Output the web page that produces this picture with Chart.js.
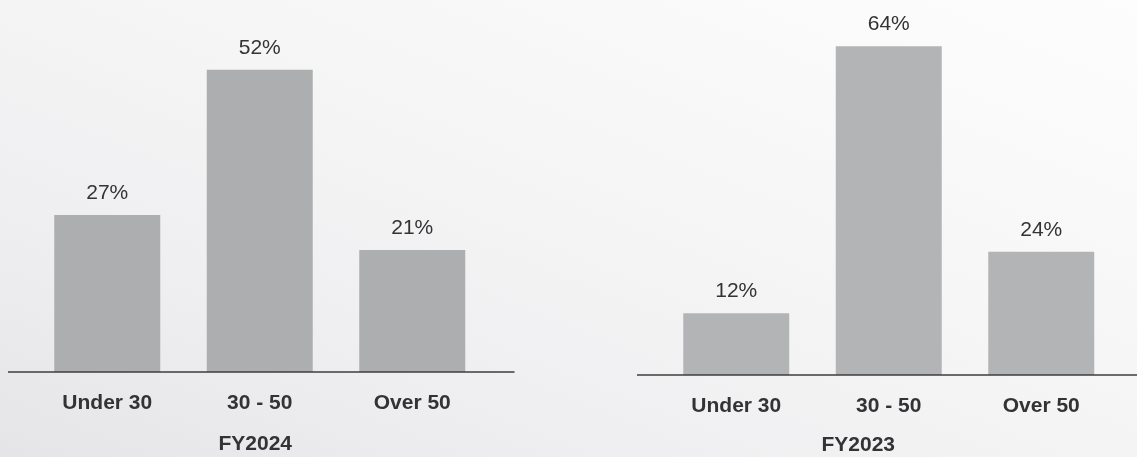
<!DOCTYPE html>
<html>
<head>
<meta charset="utf-8">
<title>Workforce by age group</title>
<script src="https://cdn.jsdelivr.net/npm/chart.js@4.4.1/dist/chart.umd.min.js"></script>
<style>
  html, body {
    margin: 0;
    padding: 0;
    width: 1137px;
    height: 457px;
    overflow: hidden;
  }
  body {
    background: linear-gradient(22deg, #e5e5e7 0%, #eeeef0 25%, #f4f4f5 50%, #f9f9fa 75%, #fdfdfd 100%);
    position: relative;
  }
  .panel {
    position: absolute;
    top: 0;
    height: 457px;
  }
  #panelLeft { left: 0; width: 530px; }
  #panelRight { left: 600px; width: 537px; }
</style>
</head>
<body>
<div class="panel" id="panelLeft"><canvas id="chartFY2024"></canvas></div>
<div class="panel" id="panelRight"><canvas id="chartFY2023"></canvas></div>

<script>
// Age groups shown on both panels
const categories = ['Under 30', '30 - 50', 'Over 50'];

// Share of employees per age group (%)
const fy2024Share = [27, 52, 21];
const fy2023Share = [12, 64, 24];

// Panel captions
const captionLeft = 'FY2024';
const captionRight = 'FY2023';

const FONT = 'Helvetica, "Liberation Sans", Arial, sans-serif';
const TEXT = '#333335';

// Value labels above each bar
const valueLabels = {
  id: 'valueLabels',
  afterDatasetsDraw(chart) {
    const ctx = chart.ctx;
    const ds = chart.data.datasets[0];
    const meta = chart.getDatasetMeta(0);
    ctx.save();
    ctx.font = '21px ' + FONT;
    ctx.fillStyle = TEXT;
    ctx.textAlign = 'center';
    ctx.textBaseline = 'middle';
    meta.data.forEach((bar, i) => {
      ctx.fillText(ds.data[i] + '%', bar.x, bar.y - 22);
    });
    ctx.restore();
  }
};

// Baseline running a little past the plot on both sides
const baseline = {
  id: 'baseline',
  afterDatasetsDraw(chart, args, opts) {
    const ctx = chart.ctx;
    const y = chart.scales.y.getPixelForValue(0);
    ctx.save();
    ctx.strokeStyle = '#3c3c3e';
    ctx.lineWidth = 1.4;
    ctx.beginPath();
    ctx.moveTo(chart.chartArea.left - opts.extendLeft, y);
    ctx.lineTo(chart.chartArea.right + opts.extendRight, y);
    ctx.stroke();
    ctx.restore();
  }
};

// Caption under the category labels
const caption = {
  id: 'caption',
  afterDraw(chart, args, opts) {
    const ctx = chart.ctx;
    const area = chart.chartArea;
    ctx.save();
    ctx.font = 'bold 21px ' + FONT;
    ctx.fillStyle = TEXT;
    ctx.textAlign = 'center';
    ctx.textBaseline = 'middle';
    ctx.fillText(opts.text, (area.left + area.right) / 2 + opts.shift, area.bottom + opts.gap);
    ctx.restore();
  }
};

function makeChart(canvasId, values, cfg) {
  return new Chart(document.getElementById(canvasId), {
    type: 'bar',
    data: {
      labels: categories,
      datasets: [{
        data: values,
        backgroundColor: cfg.barColor,
        borderWidth: 0,
        barPercentage: 0.695,
        categoryPercentage: 1.0
      }]
    },
    options: {
      responsive: true,
      maintainAspectRatio: false,
      animation: false,
      events: [],
      layout: {
        padding: { top: 0, bottom: 0, left: cfg.padLeft, right: cfg.padRight }
      },
      plugins: {
        legend: { display: false },
        tooltip: { enabled: false },
        baseline: { extendLeft: 23, extendRight: 26 },
        caption: { text: cfg.caption, shift: cfg.captionShift, gap: cfg.captionGap }
      },
      scales: {
        x: {
          grid: { display: false, drawTicks: false },
          border: { display: false },
          ticks: {
            color: TEXT,
            padding: 19,
            font: { family: FONT, size: 21, weight: 'bold' }
          },
          afterFit(scale) { scale.height = cfg.axisHeight; }
        },
        y: {
          display: false,
          min: 0,
          max: cfg.yMax
        }
      }
    },
    plugins: [valueLabels, baseline, caption]
  });
}

makeChart('chartFY2024', fy2024Share, {
  barColor: '#adaeb0',
  padLeft: 31,
  padRight: 41.5,
  yMax: 64,
  axisHeight: 85,
  caption: captionLeft,
  captionShift: -4.5,
  captionGap: 72
});

makeChart('chartFY2023', fy2023Share, {
  barColor: '#b3b4b6',
  padLeft: 60,
  padRight: 19.5,
  yMax: 73,
  axisHeight: 82,
  caption: captionRight,
  captionShift: -30.5,
  captionGap: 70
});
</script>
</body>
</html>
